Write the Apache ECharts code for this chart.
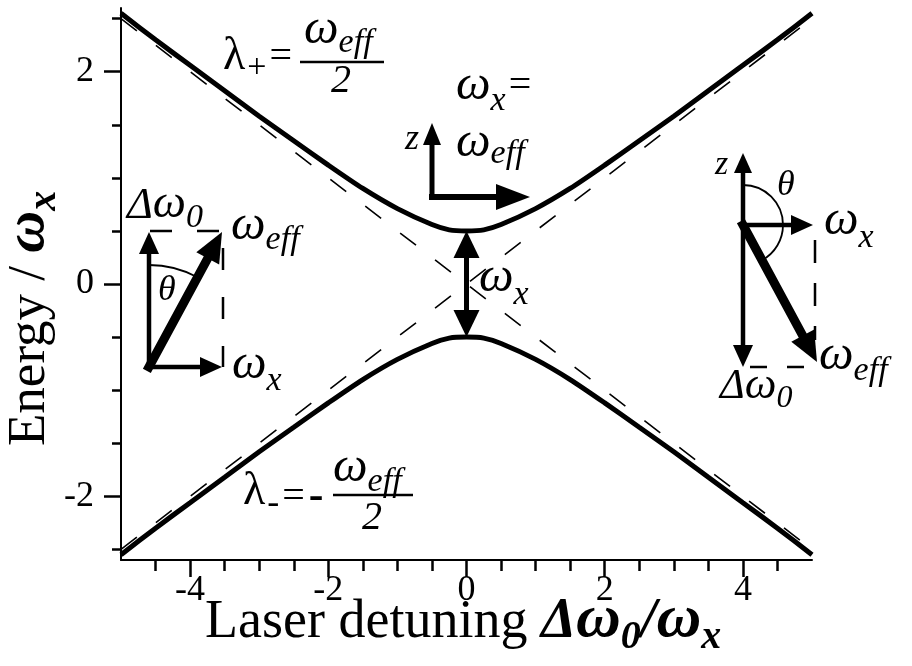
<!DOCTYPE html>
<html>
<head>
<meta charset="utf-8">
<script src="https://cdn.jsdelivr.net/npm/echarts@6/dist/echarts.min.js"></script>
<style>
  html, body { margin: 0; padding: 0; background: #fff; }
  #chart { width: 912px; height: 666px; }
</style>
</head>
<body>
<div id="chart"></div>
<script>
// Laser detuning (in units of omega_x) and the two dressed-state energies
const detuning    = [-5, -4.5, -4, -3.5, -3, -2.5, -2, -1.5, -1, -0.5, -0.25, 0, 0.25, 0.5, 1, 1.5, 2, 2.5, 3, 3.5, 4, 4.5, 5];
const upperBranch = [2.55, 2.30, 2.06, 1.82, 1.58, 1.35, 1.12, 0.90, 0.71, 0.56, 0.51, 0.50, 0.51, 0.56, 0.71, 0.90, 1.12, 1.35, 1.58, 1.82, 2.06, 2.30, 2.55];
const lowerBranch = [-2.55, -2.30, -2.06, -1.82, -1.58, -1.35, -1.12, -0.90, -0.71, -0.56, -0.51, -0.50, -0.51, -0.56, -0.71, -0.90, -1.12, -1.35, -1.58, -1.82, -2.06, -2.30, -2.55];

// Bare-state asymptotes (dashed)
const asymptoteX       = [-5, 5];
const asymptoteRising  = [-2.5, 2.5];
const asymptoteFalling = [2.5, -2.5];

// Axis ticks and their labels
const xMajorTicks = [-4, -2, 0, 2, 4];
const xMinorTicks = [-4.5, -4, -3.5, -3, -2.5, -2, -1.5, -1, -0.5, 0, 0.5, 1, 1.5, 2, 2.5, 3, 3.5, 4, 4.5];
const yMajorTicks = [-2, 0, 2];
const yMinorTicks = [-2.5, -2, -1.5, -1, -0.5, 0, 0.5, 1, 1.5, 2, 2.5];
const xTickLabels = ['-4', '-2', '0', '2', '4'];
const yTickLabels = ['-2', '0', '2'];

const FONT = '"Liberation Serif", serif';
const pairs = (xs, ys) => xs.map((x, i) => [x, ys[i]]);

const chart = echarts.init(document.getElementById('chart'), null, { renderer: 'canvas' });

const axisColor = '#000';

const option = {
  backgroundColor: '#fff',
  animation: false,
  grid: { left: 121, right: 100, top: 8, bottom: 106, containLabel: false },
  xAxis: [
    {
      type: 'value', min: -5, max: 5, position: 'bottom',
      axisLine: { show: true, onZero: false, lineStyle: { color: axisColor, width: 2 } },
      axisTick: { show: true, inside: false, customValues: xMinorTicks, length: 11, lineStyle: { color: axisColor, width: 2.5 } },
      axisLabel: { show: false },
      splitLine: { show: false }
    },
    {
      type: 'value', min: -5, max: 5, position: 'bottom',
      axisLine: { show: false, onZero: false },
      axisTick: { show: true, inside: false, customValues: xMajorTicks, length: 17, lineStyle: { color: axisColor, width: 2.5 } },
      axisLabel: { show: false },
      splitLine: { show: false }
    }
  ],
  yAxis: [
    {
      type: 'value', min: -2.6, max: 2.6, position: 'left',
      axisLine: { show: true, onZero: false, lineStyle: { color: axisColor, width: 2 } },
      axisTick: { show: true, inside: false, customValues: yMinorTicks, length: 9, lineStyle: { color: axisColor, width: 2.5 } },
      axisLabel: { show: false },
      splitLine: { show: false }
    },
    {
      type: 'value', min: -2.6, max: 2.6, position: 'left',
      axisLine: { show: false, onZero: false },
      axisTick: { show: true, inside: false, customValues: yMajorTicks, length: 17, lineStyle: { color: axisColor, width: 2.5 } },
      axisLabel: { show: false },
      splitLine: { show: false }
    }
  ],
  series: [
    {
      name: 'asymptote rising', type: 'line', xAxisIndex: 0, yAxisIndex: 0,
      data: pairs(asymptoteX, asymptoteRising), symbol: 'none',
      lineStyle: { color: '#000', width: 1.6, type: [20, 24] }, z: 1
    },
    {
      name: 'asymptote falling', type: 'line', xAxisIndex: 0, yAxisIndex: 0,
      data: pairs(asymptoteX, asymptoteFalling), symbol: 'none',
      lineStyle: { color: '#000', width: 1.6, type: [20, 24] }, z: 1
    },
    {
      name: 'lambda plus', type: 'line', xAxisIndex: 0, yAxisIndex: 0,
      data: pairs(detuning, upperBranch), symbol: 'none', smooth: 0.25,
      lineStyle: { color: '#000', width: 5 }, z: 3
    },
    {
      name: 'lambda minus', type: 'line', xAxisIndex: 0, yAxisIndex: 0,
      data: pairs(detuning, lowerBranch), symbol: 'none', smooth: 0.25,
      lineStyle: { color: '#000', width: 5 }, z: 3
    }
  ]
};
chart.setOption(option);

// ---------- annotation helpers ----------
const measureCtx = document.createElement('canvas').getContext('2d');
function fontOf(size, flags) {
  return (flags.includes('i') ? 'italic ' : '') + (flags.includes('b') ? 'bold ' : '') + size + 'px ' + FONT;
}
// Lay out a run of text pieces on a common baseline.
// piece = [text, size, flags, baselineShift, extraGapBefore]; anchor: 'left' | 'center' | 'right'
function textRun(x, base, pieces, out, anchor) {
  const items = pieces.map(p => {
    const f = fontOf(p[1], p[2] || '');
    measureCtx.font = f;
    return { t: p[0], s: p[1], f: f, dy: p[3] || 0, gap: p[4] || 0, w: measureCtx.measureText(p[0]).width };
  });
  const total = items.reduce((a, it) => a + it.w + it.gap, 0);
  let cx = x;
  if (anchor === true || anchor === 'center') cx = x - total / 2;
  else if (anchor === 'right') cx = x - total;
  items.forEach(it => {
    cx += it.gap;
    out.push({
      type: 'text', z: 100,
      style: {
        text: it.t, x: cx, y: base + it.dy - 0.3375 * it.s,
        font: it.f, fill: '#000', align: 'left', verticalAlign: 'middle'
      }
    });
    cx += it.w;
  });
  return out;
}
function arrow(x1, y1, x2, y2, lw, headLen, headW, out) {
  const dx = x2 - x1, dy = y2 - y1, L = Math.hypot(dx, dy);
  const ux = dx / L, uy = dy / L, nx = -uy, ny = ux;
  const bx = x2 - ux * headLen, by = y2 - uy * headLen;
  out.push({ type: 'line', z: 90, shape: { x1: x1, y1: y1, x2: bx + ux * 2, y2: by + uy * 2 },
    style: { stroke: '#000', lineWidth: lw, lineCap: 'square' } });
  out.push({ type: 'polygon', z: 91, shape: { points: [[x2, y2], [bx + nx * headW / 2, by + ny * headW / 2], [bx - nx * headW / 2, by - ny * headW / 2]] },
    style: { fill: '#000' } });
  return out;
}
function dashed(x1, y1, x2, y2, dash, out) {
  out.push({ type: 'line', z: 80, shape: { x1: x1, y1: y1, x2: x2, y2: y2 },
    style: { stroke: '#000', lineWidth: 2.5, lineDash: dash } });
  return out;
}
function plainLine(x1, y1, x2, y2, lw, out) {
  out.push({ type: 'line', z: 80, shape: { x1: x1, y1: y1, x2: x2, y2: y2 }, style: { stroke: '#000', lineWidth: lw } });
  return out;
}
function arc(cx, cy, r, a0, a1, out) {
  out.push({ type: 'arc', z: 80, shape: { cx: cx, cy: cy, r: r, startAngle: a0, endAngle: a1, clockwise: true },
    style: { stroke: '#000', lineWidth: 1.8, fill: null } });
  return out;
}
const toPx = (x, y) => chart.convertToPixel({ xAxisIndex: 0, yAxisIndex: 0 }, [x, y]);

const g = [];
const W = 49;   // omega glyph size in the annotations
const S = 34;   // subscript size

// Tick labels placed at the axis positions of their tick values
const TICK_SIZE = 36;
xMajorTicks.forEach((v, i) => {
  const p = toPx(v, 0);
  textRun(p[0], 603, [[xTickLabels[i], TICK_SIZE, '']], g, 'center');
});
yMajorTicks.forEach((v, i) => {
  const p = toPx(0, v);
  textRun(94, p[1] + 12, [[yTickLabels[i], TICK_SIZE, '']], g, 'right');
});

// Branch labels: lambda_+ = omega_eff / 2 and lambda_- = - omega_eff / 2
textRun(223, 72, [['λ', 46, ''], ['+', 34, '', 8, 2], ['=', 40, '', -1, 3]], g);
textRun(304, 47, [['ω', W, 'i'], ['eff', S, 'i', 8]], g);
plainLine(300, 62, 384, 62, 2.5, g);
textRun(341, 95, [['2', 40, 'i']], g, true);

textRun(243, 507, [['λ', 46, ''], ['-', 36, '', 9, 2], ['=', 40, '', 4, 3], ['-', 44, 'b', 5, 4]], g);
textRun(333, 485, [['ω', W, 'i'], ['eff', S, 'i', 9]], g);
plainLine(333, 495, 413, 495, 2.5, g);
textRun(372, 532, [['2', 40, 'i']], g, true);

// Resonance: field along x only
textRun(456, 103, [['ω', W, 'i'], ['x', S, 'i', 10], ['=', 40, '', -3, 3]], g);
textRun(456, 160, [['ω', W, 'i'], ['eff', S, 'i', 6]], g);
textRun(405, 152, [['z', 36, 'i']], g);
arrow(432, 197, 432, 123, 5, 22, 18, g);
arrow(432, 197, 530, 197, 6, 34, 26, g);

// Gap at zero detuning between the two branches
const pTop = toPx(detuning[11], upperBranch[11]);
const pBot = toPx(detuning[11], lowerBranch[11]);
const pMid = [(pTop[0] + pBot[0]) / 2, (pTop[1] + pBot[1]) / 2];
arrow(pMid[0], pMid[1], pTop[0], pTop[1], 5, 27, 26, g);
arrow(pMid[0], pMid[1], pBot[0], pBot[1], 5, 27, 26, g);
textRun(479, 295, [['ω', W, 'i'], ['x', S, 'i', 12]], g);

// Negative detuning: vector diagram on the left
arrow(149, 367, 149, 232, 4.5, 22, 20, g);
arrow(149, 367, 222, 367, 4.5, 22, 20, g);
dashed(223, 248, 223, 367, [22, 27], g);
dashed(150, 231, 222, 231, [22, 25], g);
arrow(149, 367, 222, 232, 9, 30, 26, g);
arc(149, 367, 102, -Math.PI / 2, Math.atan2(232 - 367, 222 - 149), g);
textRun(158, 303, [['θ', 36, 'i']], g);
textRun(127, 221, [['Δ', 44, 'i'], ['ω', 47, 'i'], ['0', S, 'i', 9]], g);
textRun(231, 243, [['ω', W, 'i'], ['eff', S, 'i', 9]], g);
textRun(232, 382, [['ω', W, 'i'], ['x', S, 'i', 11]], g);

// Positive detuning: vector diagram on the right
arrow(743, 225, 743, 153, 4.5, 20, 18, g);
arrow(743, 225, 813, 225, 4.5, 22, 20, g);
arrow(743, 225, 743, 367, 4.5, 22, 20, g);
dashed(815, 240, 815, 340, [23, 20], g);
dashed(750, 367, 813, 367, [17, 20], g);
arrow(743, 225, 817, 362, 9, 30, 26, g);
arc(743, 225, 40, -Math.PI / 2, Math.atan2(362 - 225, 817 - 743), g);
textRun(715, 177, [['z', 34, 'i']], g);
textRun(777, 198, [['θ', 36, 'i']], g);
textRun(824, 238, [['ω', W, 'i'], ['x', S, 'i', 12]], g);
textRun(819, 373, [['ω', W, 'i'], ['eff', S, 'i', 10]], g);
textRun(720, 401, [['Δ', 42, 'i'], ['ω', 45, 'i'], ['0', 32, 'i', 8]], g);

// Axis titles
textRun(205, 641, [['Laser detuning ', 54, ''], ['Δ', 56, 'bi'], ['ω', 62, 'bi'], ['0', 40, 'bi', 10], ['/', 56, 'bi'], ['ω', 62, 'bi'], ['x', 40, 'bi', 10]], g);
const yTitle = textRun(0, 0, [['Energy / ', 53, ''], ['ω', 58, 'bi'], ['x', 40, 'bi', 10]], []);
g.push({ type: 'group', x: 48, y: 446, rotation: Math.PI / 2, z: 100, children: yTitle });

chart.setOption({ graphic: { elements: g } });
</script>
</body>
</html>
